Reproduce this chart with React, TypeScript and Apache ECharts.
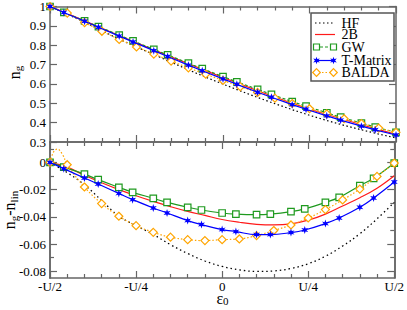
import React, { useEffect, useRef } from 'react';
import * as echarts from 'echarts';

// x values in units of U (epsilon_0 / U)
const xTickValues = [-0.5, -0.25, 0, 0.25, 0.5];
const xTickLabels = ['-U/2', '-U/4', '0', 'U/4', 'U/2'];

// sampling of HF, 2B and BALDA
const eps20 = [-0.5, -0.45, -0.4, -0.35, -0.3, -0.25, -0.2, -0.15, -0.1, -0.05, 0, 0.05, 0.1, 0.15, 0.2, 0.25, 0.3, 0.35, 0.4, 0.45, 0.5];
// sampling of GW and T-Matrix markers
const epsMarks = [-0.5, -0.46, -0.4, -0.36, -0.3, -0.26, -0.2, -0.16, -0.1, -0.06, 0, 0.04, 0.1, 0.14, 0.2, 0.24, 0.3, 0.34, 0.4, 0.44, 0.5];

// upper panel: n_g
const hfNg = [1.0, 0.960, 0.919, 0.875, 0.831, 0.791, 0.752, 0.712, 0.673, 0.635, 0.599, 0.564, 0.530, 0.498, 0.467, 0.438, 0.411, 0.386, 0.363, 0.341, 0.321];
const b2Ng = [1.0, 0.964, 0.926, 0.888, 0.850, 0.813, 0.776, 0.740, 0.704, 0.669, 0.633, 0.599, 0.565, 0.532, 0.500, 0.470, 0.442, 0.416, 0.389, 0.364, 0.340];
const gwNg = [1.0, 0.970, 0.926, 0.896, 0.852, 0.822, 0.779, 0.750, 0.707, 0.679, 0.638, 0.611, 0.572, 0.546, 0.509, 0.485, 0.451, 0.428, 0.398, 0.377, 0.350];
const tmNg = [1.0, 0.969, 0.924, 0.893, 0.847, 0.817, 0.772, 0.742, 0.697, 0.668, 0.626, 0.598, 0.557, 0.531, 0.493, 0.469, 0.435, 0.413, 0.382, 0.363, 0.336];
const baldaNg = [1.0, 0.966, 0.917, 0.872, 0.830, 0.791, 0.754, 0.718, 0.683, 0.650, 0.618, 0.586, 0.556, 0.527, 0.499, 0.472, 0.445, 0.420, 0.395, 0.372, 0.350];

// lower panel: n_g - n_lin
const hfDiff = [0, -0.0075, -0.0165, -0.028, -0.0395, -0.0465, -0.053, -0.0605, -0.067, -0.0725, -0.0765, -0.079, -0.0802, -0.0798, -0.078, -0.0745, -0.069, -0.0615, -0.0525, -0.0415, -0.0294];
const b2Diff = [0, -0.0035, -0.0095, -0.015, -0.020, -0.0245, -0.0287, -0.0325, -0.036, -0.039, -0.042, -0.044, -0.0455, -0.046, -0.0452, -0.0425, -0.038, -0.032, -0.026, -0.019, -0.0098];
const gwDiff = [0, -0.0035, -0.0086, -0.0127, -0.0183, -0.022, -0.0264, -0.0294, -0.033, -0.035, -0.0372, -0.038, -0.0384, -0.038, -0.0362, -0.0342, -0.0294, -0.0257, -0.0171, -0.0117, -0.0005];
const tmDiff = [0, -0.0046, -0.0115, -0.0159, -0.0228, -0.0274, -0.0335, -0.0372, -0.0428, -0.0457, -0.0494, -0.0509, -0.0531, -0.0531, -0.0516, -0.0497, -0.045, -0.0409, -0.033, -0.0262, -0.0144];
const baldaDiff = [0, -0.0017, -0.0181, -0.0303, -0.0396, -0.0465, -0.0514, -0.055, -0.0568, -0.0575, -0.0568, -0.0563, -0.0538, -0.0501, -0.046, -0.0409, -0.0347, -0.0276, -0.0196, -0.0103, -0.0005];
// the BALDA fit curve overshoots just right of -U/2 (unmarked curve points)
const baldaBumpEps = [-0.49, -0.479, -0.463];
const baldaBumpDiff = [0.0075, 0.0098, 0.0055];

const yBottomMajor = [0, -0.02, -0.04, -0.06, -0.08];
const yBottomMinor = [0.01, -0.01, -0.03, -0.05, -0.07];

const legendNames = ['HF', '2B', 'GW', 'T-Matrix', 'BALDA'];

const COL = { hf: '#000000', b2: '#ff1a1a', gw: '#1f9a1f', tm: '#0000ff', balda: '#ffa500' };
const AXIS = '#666666';
const FONT = 'Liberation Serif';

function starPoints(cx: number, cy: number, r1: number, r2: number, n: number) {
  const pts: number[][] = [];
  for (let i = 0; i < 2 * n; i++) {
    const a = -Math.PI / 2 + (i * Math.PI) / n;
    const r = i % 2 === 0 ? r1 : r2;
    pts.push([cx + r * Math.cos(a), cy + r * Math.sin(a)]);
  }
  return pts;
}
const STAR = 'path://M' + starPoints(10, 10, 10, 4.2, 6).map((p) => p[0].toFixed(2) + ' ' + p[1].toFixed(2)).join(' L') + ' Z';

const pairs = (xs: number[], ys: number[]) => xs.map((x, i) => [x, ys[i]]);

function xAxisBase(gridIndex: number, position: string, labels: boolean) {
  return {
    type: 'value',
    gridIndex,
    position,
    min: -0.5,
    max: 0.5,
    interval: 0.25,
    axisLine: { show: true, onZero: false, lineStyle: { color: AXIS, width: 1.5 } },
    axisTick: { show: true, inside: true, length: 7, lineStyle: { color: AXIS, width: 1.2 } },
    minorTick: { show: true, splitNumber: 5, length: 4, lineStyle: { color: AXIS, width: 1.2 } },
    splitLine: { show: false },
    minorSplitLine: { show: false },
    axisLabel: labels
      ? {
          show: true,
          margin: 2,
          color: '#000',
          fontFamily: FONT,
          fontSize: 13,
          lineHeight: 12,
          formatter: (v: number) => {
            const i = xTickValues.findIndex((t) => Math.abs(t - v) < 1e-6);
            return i >= 0 ? xTickLabels[i] : '';
          },
        }
      : { show: false },
  };
}

function yBottomAxis(position: string, values: number[], len: number, labels: boolean) {
  return {
    type: 'value',
    gridIndex: 1,
    position,
    min: -0.085,
    max: 0.015,
    axisLine: { show: true, onZero: false, lineStyle: { color: AXIS, width: 1.5 } },
    axisTick: { show: true, inside: true, length: len, customValues: values, lineStyle: { color: AXIS, width: 1.2 } },
    splitLine: { show: false },
    axisLabel: labels
      ? {
          show: true,
          customValues: values,
          margin: 4,
          color: '#000',
          fontFamily: FONT,
          fontSize: 13,
          formatter: (v: number) => (Math.abs(v) < 1e-9 ? '0' : v.toFixed(2)),
        }
      : { show: false },
  };
}

function legendGraphics() {
  const els: any[] = [];
  els.push({
    type: 'rect',
    z: 100,
    shape: { x: 311, y: 13, width: 83, height: 68 },
    style: { fill: '#fff', stroke: '#555', lineWidth: 1.5 },
  });
  const rowsY = [23, 34.5, 47, 60.5, 72.5];
  const x1 = 315, x2 = 335;
  const styles = [
    { stroke: COL.hf, lineWidth: 1.2, lineDash: [1.5, 2.5] },
    { stroke: COL.b2, lineWidth: 1.2, lineDash: null },
    { stroke: COL.gw, lineWidth: 1.2, lineDash: [3, 2] },
    { stroke: COL.tm, lineWidth: 1.2, lineDash: null },
    { stroke: COL.balda, lineWidth: 1.2, lineDash: [1.5, 2] },
  ];
  legendNames.forEach((name, i) => {
    const y = rowsY[i];
    els.push({ type: 'line', z: 101, shape: { x1, y1: y, x2, y2: y }, style: { ...styles[i], fill: null } });
    [x1 + 1.5, x2 - 1.5].forEach((mx) => {
      if (i === 2) {
        els.push({ type: 'rect', z: 102, shape: { x: mx - 3, y: y - 3, width: 6, height: 6 }, style: { fill: '#fff', stroke: COL.gw, lineWidth: 1.2 } });
      } else if (i === 3) {
        els.push({ type: 'polygon', z: 102, shape: { points: starPoints(mx, y, 3.8, 1.6, 6) }, style: { fill: COL.tm } });
      } else if (i === 4) {
        els.push({ type: 'polygon', z: 102, shape: { points: [[mx, y - 3.8], [mx + 3.8, y], [mx, y + 3.8], [mx - 3.8, y]] }, style: { fill: '#fff', stroke: COL.balda, lineWidth: 1.2 } });
      }
    });
    els.push({
      type: 'text',
      z: 102,
      x: 341.5,
      y,
      style: { text: name, fill: '#000', fontFamily: FONT, fontSize: 14, lineHeight: 12, align: 'left', verticalAlign: 'middle' },
    });
  });
  return els;
}

const rich = {
  m: { fontFamily: FONT, fontSize: 16, lineHeight: 19, fill: '#000', verticalAlign: 'middle' },
  s: { fontFamily: FONT, fontSize: 11, lineHeight: 11, fill: '#000', verticalAlign: 'bottom' },
};
const richX = {
  m: { fontFamily: FONT, fontSize: 16, lineHeight: 17, fill: '#000', verticalAlign: 'middle' },
  s: { fontFamily: FONT, fontSize: 11, lineHeight: 11, fill: '#000', verticalAlign: 'bottom' },
};

export default function App() {
  const ref = useRef<HTMLDivElement>(null);
  useEffect(() => {
    if (!ref.current) return;
    const chart = echarts.init(ref.current, undefined, { renderer: 'svg' });

    const baldaBottom: any[] = pairs(eps20, baldaDiff).map((p) => ({ value: p }));
    baldaBumpEps.forEach((x, i) => baldaBottom.push({ value: [x, baldaBumpDiff[i]], symbol: 'none' }));
    baldaBottom.sort((a, b) => a.value[0] - b.value[0]);

    const gwSym = { symbol: 'rect', symbolSize: 6.5, itemStyle: { color: '#fff', borderColor: COL.gw, borderWidth: 1.2 } };
    const tmSym = { symbol: STAR, symbolSize: 8, symbolKeepAspect: true, itemStyle: { color: COL.tm, borderWidth: 0 } };
    const baSym = { symbol: 'diamond', symbolSize: [8, 8], itemStyle: { color: '#fff', borderColor: COL.balda, borderWidth: 1.2 } };

    const option: any = {
      animation: false,
      backgroundColor: '#fff',
      textStyle: { fontFamily: FONT, color: '#000' },
      grid: [
        { left: 50, top: 5, width: 346, height: 137, containLabel: false },
        { left: 50, top: 142, width: 346, height: 136, containLabel: false },
      ],
      xAxis: [
        xAxisBase(0, 'bottom', false),
        xAxisBase(0, 'top', false),
        xAxisBase(1, 'bottom', true),
        xAxisBase(1, 'top', false),
      ],
      yAxis: [
        {
          type: 'value',
          gridIndex: 0,
          position: 'left',
          min: 0.3,
          max: 1,
          interval: 0.1,
          axisLine: { show: true, onZero: false, lineStyle: { color: AXIS, width: 1.5 } },
          axisTick: { show: true, inside: true, length: 7, lineStyle: { color: AXIS, width: 1.2 } },
          splitLine: { show: false },
          axisLabel: {
            margin: 4,
            color: '#000',
            fontFamily: FONT,
            fontSize: 13,
            formatter: (v: number) => (Math.abs(v - 1) < 1e-9 ? '1' : v.toFixed(1)),
          },
        },
        {
          type: 'value',
          gridIndex: 0,
          position: 'right',
          min: 0.3,
          max: 1,
          interval: 0.1,
          axisLine: { show: true, onZero: false, lineStyle: { color: AXIS, width: 1.5 } },
          axisTick: { show: true, inside: true, length: 7, lineStyle: { color: AXIS, width: 1.2 } },
          splitLine: { show: false },
          axisLabel: { show: false },
        },
        yBottomAxis('left', yBottomMajor, 7, true),
        yBottomAxis('left', yBottomMinor, 4, false),
        yBottomAxis('right', yBottomMajor, 7, false),
        yBottomAxis('right', yBottomMinor, 4, false),
      ],
      series: [
        // upper panel
        { type: 'line', name: 'HF', xAxisIndex: 0, yAxisIndex: 0, data: pairs(eps20, hfNg), symbol: 'none', lineStyle: { color: COL.hf, width: 1.2, type: [1.5, 2.5] }, z: 2 },
        { type: 'line', name: '2B', xAxisIndex: 0, yAxisIndex: 0, data: pairs(eps20, b2Ng), symbol: 'none', lineStyle: { color: COL.b2, width: 1.2 }, z: 3 },
        { type: 'line', name: 'GW', xAxisIndex: 0, yAxisIndex: 0, data: pairs(epsMarks, gwNg), ...gwSym, lineStyle: { color: COL.gw, width: 1.2, type: [3, 2] }, z: 4 },
        { type: 'line', name: 'BALDA', xAxisIndex: 0, yAxisIndex: 0, data: pairs(eps20, baldaNg), ...baSym, lineStyle: { color: COL.balda, width: 1.2, type: [1.5, 2] }, z: 5 },
        { type: 'line', name: 'T-Matrix', xAxisIndex: 0, yAxisIndex: 0, data: pairs(epsMarks, tmNg), ...tmSym, lineStyle: { color: COL.tm, width: 1.2 }, z: 6 },
        // lower panel
        { type: 'line', name: 'HF', xAxisIndex: 2, yAxisIndex: 2, data: pairs(eps20, hfDiff), smooth: 0.4, symbol: 'none', lineStyle: { color: COL.hf, width: 1.3, type: [1.5, 3] }, z: 2 },
        { type: 'line', name: '2B', xAxisIndex: 2, yAxisIndex: 2, data: pairs(eps20, b2Diff), smooth: 0.4, symbol: 'none', lineStyle: { color: COL.b2, width: 1.2 }, z: 3 },
        { type: 'line', name: 'GW', xAxisIndex: 2, yAxisIndex: 2, data: pairs(epsMarks, gwDiff), smooth: 0.4, ...gwSym, lineStyle: { color: COL.gw, width: 1.2 }, z: 4 },
        { type: 'line', name: 'BALDA', xAxisIndex: 2, yAxisIndex: 2, data: baldaBottom, smooth: 0.4, ...baSym, showAllSymbol: true, lineStyle: { color: COL.balda, width: 1.2, type: [1.5, 2] }, z: 5 },
        { type: 'line', name: 'T-Matrix', xAxisIndex: 2, yAxisIndex: 2, data: pairs(epsMarks, tmDiff), smooth: 0.4, ...tmSym, lineStyle: { color: COL.tm, width: 1.2 }, z: 6 },
      ],
      graphic: [
        {
          type: 'text',
          x: 14,
          y: 72.5,
          rotation: Math.PI / 2,
          style: { text: '{m|n}{s|g}', rich, align: 'center', verticalAlign: 'middle' },
        },
        {
          type: 'text',
          x: 9.5,
          y: 210,
          rotation: Math.PI / 2,
          style: { text: '{m|n}{s|g}{m|-n}{s|lin}', rich, align: 'center', verticalAlign: 'middle' },
        },
        {
          type: 'text',
          x: 222.5,
          y: 298,
          style: { text: '{m|ε}{s|0}', rich: richX, align: 'center', verticalAlign: 'middle' },
        },
        ...legendGraphics(),
      ],
    };
    chart.setOption(option);
    return () => chart.dispose();
  }, []);
  return <div ref={ref} style={{ position: 'absolute', left: 0, top: 0, width: 407, height: 310 }} />;
}
